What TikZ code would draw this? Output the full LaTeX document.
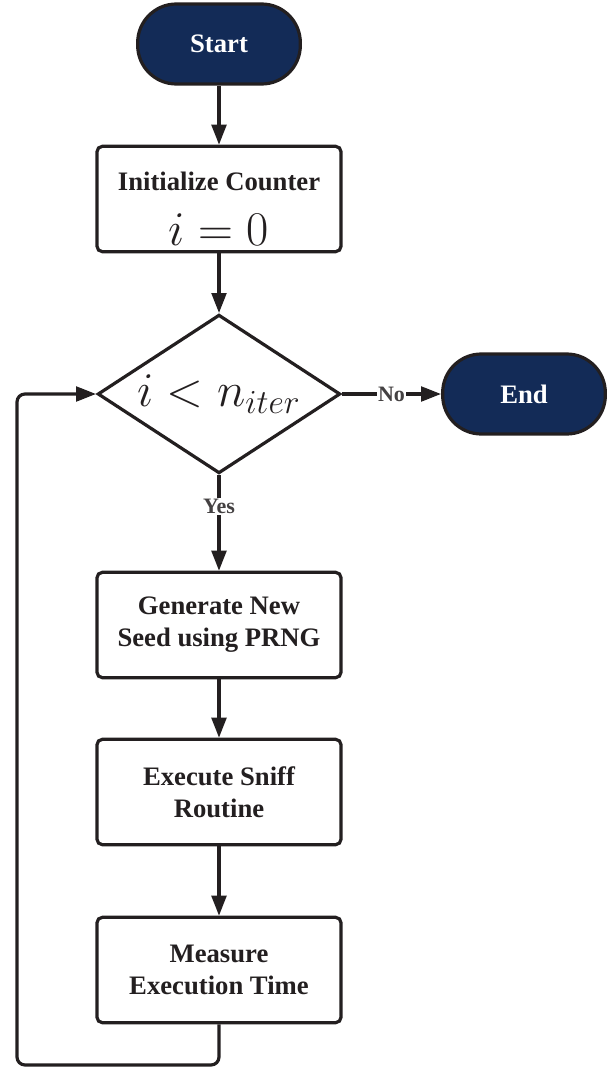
\documentclass[tikz,border=0pt]{standalone}
\usepackage{graphicx}
\usepackage[no-math]{fontspec}
\setmainfont{Liberation Serif}
\usetikzlibrary{shapes.geometric,arrows.meta}
\definecolor{navy}{HTML}{132B57}
\definecolor{ink}{HTML}{231F20}
\newcommand{\bigmath}[1]{\scalebox{1.75}{$#1$}}

\begin{document}
\begin{tikzpicture}[x=0.75pt,y=-0.75pt,
    every node/.style={font=\fontsize{20}{24}\selectfont\bfseries, text=ink},
    terminal/.style={draw=ink, line width=2.4pt, fill=navy, text=white, rounded corners=29pt, minimum width=122pt, minimum height=60pt},
    process/.style={draw=ink, line width=2.4pt, fill=white, rounded corners=4pt, minimum width=183pt, minimum height=79pt, align=center},
    decision/.style={diamond, shape aspect=1.53, draw=ink, line width=2.4pt, minimum width=182pt, minimum height=119pt, inner sep=0pt},
    flow/.style={draw=ink, line width=2.4pt, -{Triangle[length=15pt,width=11pt]}},
    lbl/.style={fill=white, inner sep=1pt, text=ink!85, font=\fontsize{16.5}{18}\selectfont\bfseries}]
            \useasboundingbox (0,0) rectangle (613,1070);
            % nodes
            \node[terminal] (start) at (219,44) {Start};
            \node[process] (init) at (219,199) {};
            \node (initlbl) at (219,181) {Initialize Counter};
            \node (initeq) at (219,230) {\bigmath{i=0}};
            \node[decision] (check) at (219,394) {\bigmath{i<n_{iter}}};
            \node[terminal] (end) at (524,394) {End};
            \node[process] (gen) at (219,625) {Generate New\\Seed using PRNG};
            \node[process] (exec) at (219,792) {Execute Sniff\\Routine};
            \node[process] (measure) at (219,970) {Measure\\Execution Time};
            % connectors
            \draw[flow] (start) -- (init);
            \draw[flow] (init) -- (check);
            \draw[flow] (check) -- node[lbl] {No} (end);
            \draw[flow] (check) -- node[lbl, pos=0.33] {Yes} (gen);
            \foreach \a/\b in {gen/exec, exec/measure} {
                \draw[flow] (\a) -- (\b);
            }
            \coordinate (loop) at (17,1065);
            \draw[flow, rounded corners=6pt] (measure.south) |- (loop) |- (check.west);
        \end{tikzpicture}
\end{document}
